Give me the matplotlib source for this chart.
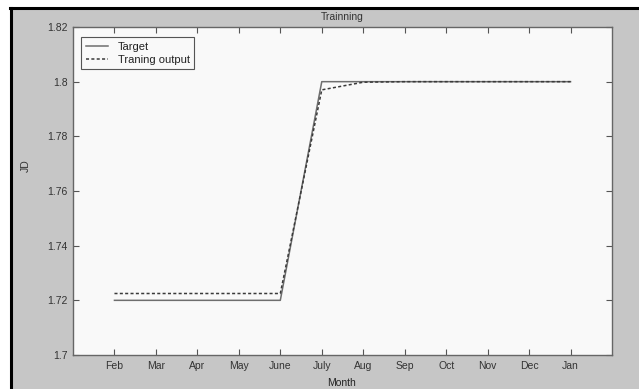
import matplotlib.pyplot as plt
from matplotlib.patches import Rectangle
from matplotlib.lines import Line2D

# monthly values
months = ['Feb', 'Mar', 'Apr', 'May', 'June', 'July', 'Aug', 'Sep', 'Oct', 'Nov', 'Dec', 'Jan']
target = [1.72, 1.72, 1.72, 1.72, 1.72, 1.80, 1.80, 1.80, 1.80, 1.80, 1.80, 1.80]
train_out = [1.7225, 1.7225, 1.7225, 1.7225, 1.7225, 1.797, 1.7998, 1.80, 1.80, 1.80, 1.80, 1.80]
yticks = [1.7, 1.72, 1.74, 1.76, 1.78, 1.8, 1.82]

plt.rcParams['font.family'] = ['Liberation Sans', 'DejaVu Sans']

W, H = 639, 389
fig = plt.figure(figsize=(W / 100, H / 100), dpi=100, facecolor='white')

# gray figure panel with dark frame on top and left
fig.add_artist(Rectangle((12 / W, 0), 1, (H - 10) / H, transform=fig.transFigure,
                         facecolor='#c6c6c6', edgecolor='none', zorder=-10))
fig.add_artist(Line2D([11 / W, 11 / W], [0, (H - 8) / H], transform=fig.transFigure,
                      color='black', lw=2.2, zorder=-9))
fig.add_artist(Line2D([10 / W, 1], [(H - 8) / H, (H - 8) / H], transform=fig.transFigure,
                      color='black', lw=2.2, zorder=-9))

ax = fig.add_axes([73 / W, (H - 355) / H, (612 - 73) / W, (355 - 27) / H])
ax.set_zorder(1)
ax.set_facecolor('#f9f9f9')

x = list(range(1, len(months) + 1))
ax.plot(x, target, color='#6e6e6e', lw=1.1, label='Target')
ax.plot(x, train_out, color='#3a3a3a', lw=1.1, ls=(0, (2, 1.5)), label='Traning output')

ax.set_xlim(0, 13)
ax.set_ylim(1.7, 1.82)
ax.set_xticks(x)
ax.set_xticklabels(months)
ax.set_yticks(yticks)
ax.set_yticklabels(['1.7', '1.72', '1.74', '1.76', '1.78', '1.8', '1.82'])
ax.tick_params(direction='in', length=4, width=0.8, colors='#555555', labelcolor='#333333',
               labelsize=7.5, top=True, right=True, pad=4)
for s in ax.spines.values():
    s.set_color('#666666')
    s.set_linewidth(1.0)

leg = ax.legend(loc='upper left', fontsize=8, frameon=True, fancybox=False,
                edgecolor='#555555', framealpha=1, facecolor='#f9f9f9',
                handlelength=2.0, handletextpad=0.9, borderpad=0.4, labelspacing=0.25,
                bbox_to_anchor=(0.005, 0.985))
leg.get_frame().set_linewidth(0.8)
for t in leg.get_texts():
    t.set_color('#222222')

fig.text(342 / W, (H - 17) / H, 'Trainning', ha='center', va='center', fontsize=7.5, color='#333333')
fig.text(26 / W, (H - 166) / H, 'JD', ha='center', va='center', rotation=90, fontsize=7.5, color='#333333')
fig.text(342 / W, 1.5 / H, 'Month', ha='center', va='bottom', fontsize=7.5, color='#222222')

fig.savefig('out.png', dpi=100, facecolor=fig.get_facecolor())
